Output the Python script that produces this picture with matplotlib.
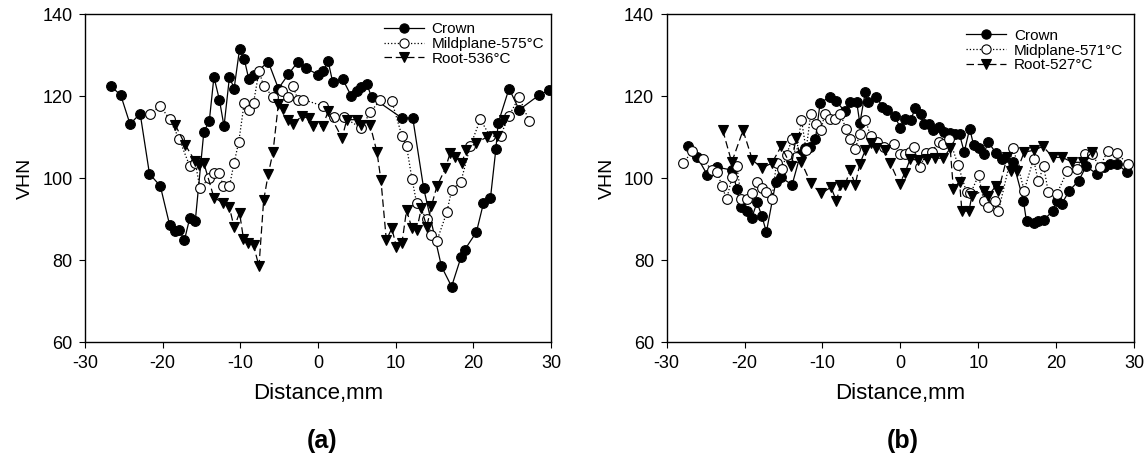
import matplotlib
matplotlib.use("Agg")
import matplotlib.pyplot as plt

plt.rcParams['font.family'] = ['Liberation Sans', 'DejaVu Sans']
plt.rcParams['axes.unicode_minus'] = False

# ---------------- Panel (a) data ----------------
a_crown_x = [-26.7, -25.4, -24.2, -22.9, -21.7, -20.3, -19.1, -18.4, -17.9, -17.2, -16.5, -15.8,
             -14.7, -14.0, -13.4, -12.7, -12.1, -11.4, -10.8, -10.1, -9.5, -8.9, -8.3, -6.4,
             -5.1, -3.8, -2.6, -1.5, 0.0, 0.7, 1.3, 1.9, 3.2, 4.3, 5.0, 5.6, 6.3, 6.9,
             10.8, 12.2, 13.6, 15.9, 17.2, 18.4, 18.9, 20.4, 21.3, 22.2, 22.9, 23.2, 24.6,
             25.9, 28.4, 29.7]
a_crown_y = [122.5, 120.3, 113.2, 115.8, 101.1, 98.1, 88.6, 87.2, 87.5, 84.9, 90.4, 89.6,
             111.3, 113.9, 124.7, 119.2, 112.7, 124.7, 121.9, 131.5, 129.1, 124.1, 125.3, 128.4,
             121.9, 125.4, 128.4, 126.8, 125.3, 126.1, 128.6, 123.4, 124.1, 120.0, 121.2, 122.3, 122.9, 119.8,
             114.7, 114.7, 97.6, 78.5, 73.6, 80.7, 82.6, 86.9, 93.9, 95.1, 107.1, 113.5, 121.9,
             116.7, 120.2, 121.5]

a_mid_x = [-21.6, -20.3, -19.1, -17.9, -16.5, -15.8, -15.2, -14.0, -13.4, -12.7, -12.2, -11.4,
           -10.8, -10.2, -9.5, -8.9, -8.3, -7.6, -7.0, -5.8, -4.6, -3.8, -3.2, -2.6, -1.9,
           0.7, 2.0, 3.3, 5.6, 6.7, 8.0, 9.5, 10.8, 11.4, 12.1, 12.7, 14.0, 14.6, 15.3,
           16.6, 17.2, 18.4, 19.6, 20.9, 22.1, 23.5, 24.6, 25.9, 27.2]
a_mid_y = [115.8, 117.6, 114.4, 109.7, 102.9, 103.8, 97.6, 100.0, 101.2, 101.2, 98.1, 98.1,
           103.8, 108.9, 118.4, 116.6, 118.4, 126.1, 122.6, 119.8, 121.2, 119.8, 122.4, 119.2, 119.2,
           117.6, 114.9, 114.9, 112.2, 116.1, 119.0, 118.8, 110.4, 107.9, 99.8, 94.0, 90.0, 86.1, 84.7,
           91.8, 97.1, 99.2, 107.8, 114.4, 110.4, 110.4, 115.3, 119.8, 113.9]

a_root_x = [-18.4, -17.1, -15.8, -15.3, -14.7, -13.4, -12.2, -11.4, -10.8, -10.1, -9.6, -9.0,
            -8.3, -7.6, -7.0, -6.4, -5.8, -5.1, -4.5, -3.8, -3.2, -2.1, -1.2, -0.6, 0.6,
            1.3, 3.1, 3.7, 5.0, 5.6, 6.7, 7.6, 8.1, 8.8, 9.5, 10.1, 10.8, 11.4, 12.1,
            12.7, 13.3, 14.0, 14.6, 15.3, 16.4, 17.0, 17.6, 18.5, 19.1, 20.4, 21.7, 23.0, 23.9]
a_root_y = [113.1, 108.2, 104.1, 103.3, 103.7, 95.3, 94.0, 92.9, 88.0, 91.6, 85.3, 84.1,
            83.7, 78.5, 94.6, 101.1, 106.3, 118.2, 116.9, 114.3, 113.3, 115.1, 114.7, 112.7, 112.7,
            116.3, 109.8, 114.3, 114.3, 113.1, 113.1, 106.3, 99.6, 84.9, 87.8, 83.3, 84.1, 92.2, 87.8,
            87.3, 92.7, 88.2, 93.2, 98.0, 102.4, 106.1, 105.3, 103.8, 106.9, 108.7, 110.0, 110.4, 114.3]

# ---------------- Panel (b) data ----------------
b_crown_x = [-27.3, -26.1, -24.8, -23.5, -21.6, -21.0, -20.5, -19.7, -19.1, -18.4, -17.8, -17.2,
             -16.0, -15.3, -13.9, -12.8, -12.2, -11.6, -10.9, -10.3, -9.0, -8.3, -7.1, -6.5,
             -5.6, -5.2, -4.5, -4.2, -3.1, -2.3, -1.7, -0.7, 0.0, 0.6, 1.35, 1.9, 2.6, 3.0,
             3.7, 4.25, 4.9, 5.6, 6.4, 7.0, 7.6, 8.2, 8.9, 9.4, 10.05, 10.7, 11.3, 12.3, 13.0,
             14.5, 15.8, 16.2, 17.1, 17.7, 18.4, 19.6, 20.1, 20.7, 21.7, 22.9, 23.85, 25.2,
             26.1, 26.9, 27.8, 29.1]
b_crown_y = [107.8, 105.2, 100.9, 102.7, 102.0, 97.4, 93.1, 92.1, 90.3, 94.1, 90.9, 86.9,
             99.0, 100.2, 98.4, 106.0, 107.5, 107.6, 109.6, 118.4, 119.9, 118.9, 116.3, 118.5,
             118.5, 113.4, 121.1, 118.5, 119.9, 117.5, 116.7, 115.2, 112.2, 114.4, 114.3, 117.1, 115.8, 113.3,
             113.3, 111.7, 112.5, 111.3, 111.0, 110.7, 110.7, 106.4, 112.1, 108.2, 107.4, 106.0, 108.8, 106.1, 104.7,
             103.9, 94.5, 89.5, 89.0, 89.5, 89.8, 92.1, 94.5, 93.7, 97.0, 99.4, 102.9, 101.1,
             102.7, 103.5, 103.5, 101.5]

b_mid_x = [-27.9, -26.7, -25.4, -24.2, -23.5, -22.9, -22.3, -21.6, -21.0, -20.4, -19.7, -19.1,
           -18.4, -17.8, -17.2, -16.5, -15.9, -15.2, -14.6, -13.9, -13.4, -12.7, -12.1, -11.5,
           -10.8, -10.2, -9.7, -9.0, -8.4, -7.7, -7.0, -6.45, -5.8, -5.2, -4.5, -3.8, -3.0,
           -2.1, -0.8, 0.0, 0.6, 1.2, 1.7, 2.5, 3.3, 4.0, 4.9, 5.5, 6.3, 7.4, 8.5, 9.0,
           10.05, 10.7, 11.3, 12.2, 12.6, 14.5, 15.9, 17.1, 17.7, 18.4, 19.0, 20.1, 21.4,
           22.65, 23.7, 24.6, 25.6, 26.6, 27.8, 29.2]
b_mid_y = [103.7, 106.6, 104.7, 102.0, 101.5, 98.0, 94.9, 100.4, 103.1, 94.9, 94.9, 96.3,
           99.0, 97.6, 96.6, 94.9, 103.7, 102.3, 105.8, 109.6, 105.3, 114.3, 106.9, 115.8,
           113.3, 111.8, 115.6, 114.5, 114.5, 115.8, 112.1, 109.6, 107.2, 110.7, 114.3, 110.2, 108.8,
           107.6, 108.4, 106.0, 106.0, 106.4, 107.6, 102.7, 106.1, 106.4, 108.8, 108.4, 109.6, 103.3, 96.6, 96.3,
           100.7, 94.5, 92.9, 94.4, 92.1, 107.4, 97.0, 104.7, 99.3, 102.9, 96.6, 96.2, 101.7,
           102.3, 106.0, 106.0, 102.7, 106.6, 106.1, 103.5]

b_root_x = [-22.8, -21.65, -20.2, -19.0, -17.8, -16.5, -15.3, -14.0, -13.4, -12.7, -11.5, -10.2,
            -8.9, -8.2, -7.7, -7.1, -6.45, -5.8, -5.2, -4.5, -3.8, -3.1, -2.0, -1.3, -0.1,
            0.6, 1.25, 2.3, 3.4, 4.5, 5.5, 6.4, 6.8, 7.6, 7.9, 8.8, 9.2, 10.7, 11.3, 12.3,
            12.6, 13.7, 14.2, 15.0, 15.9, 17.1, 18.3, 19.6, 20.8, 22.1, 23.4, 24.6]
b_root_y = [111.7, 103.9, 111.7, 104.5, 102.5, 103.7, 107.8, 102.9, 109.9, 103.9, 98.8, 96.3,
            97.8, 94.4, 98.4, 98.4, 102.0, 98.4, 103.5, 106.9, 108.6, 107.4, 106.8, 103.7, 98.6,
            101.4, 104.6, 104.5, 104.6, 104.9, 104.9, 107.3, 97.5, 99.2, 92.0, 92.0, 95.8, 97.0, 95.8, 98.2,
            97.0, 105.1, 101.9, 101.9, 106.4, 106.8, 107.8, 105.1, 105.1, 103.9, 103.9, 106.4]

labels_a = ["Crown", "Mildplane-575\u00b0C", "Root-536\u00b0C"]
labels_b = ["Crown", "Midplane-571\u00b0C", "Root-527\u00b0C"]

x_ticks = [-30, -20, -10, 0, 10, 20, 30]
y_ticks = [60, 80, 100, 120, 140]

W, H = 1145, 454
fig = plt.figure(figsize=(W / 100, H / 100), dpi=100)

def px_axes(left, right, top, bottom):
    return fig.add_axes([left / W, 1 - bottom / H, (right - left) / W, (bottom - top) / H])

axa = px_axes(85, 551, 14.3, 342.3)
axb = px_axes(666.7, 1134, 14.3, 342.3)

ms = 7
lw = 0.9

def draw(ax, cx, cy, mx, my, rx, ry, labels):
    ax.plot(cx, cy, '-', color='black', lw=lw, marker='o', ms=ms, mfc='black', mec='black',
            mew=0.8, label=labels[0])
    ax.plot(mx, my, ':', color='black', lw=lw, marker='o', ms=ms, mfc='white', mec='black',
            mew=0.8, label=labels[1])
    ax.plot(rx, ry, color='black', lw=lw, ls=(0, (6, 3)), marker='v', ms=ms, mfc='black',
            mec='black', mew=0.8, label=labels[2])
    ax.set_xlim(-30, 30)
    ax.set_ylim(60, 140)
    ax.set_xticks(x_ticks)
    ax.set_yticks(y_ticks)
    ax.tick_params(direction='out', length=4, width=0.8, labelsize=13, pad=5)
    for s in ax.spines.values():
        s.set_linewidth(1.0)
    ax.set_xlabel("Distance,mm", fontsize=16, labelpad=8)
    ax.set_ylabel("VHN", fontsize=14, labelpad=6)

draw(axa, a_crown_x, a_crown_y, a_mid_x, a_mid_y, a_root_x, a_root_y, labels_a)
draw(axb, b_crown_x, b_crown_y, b_mid_x, b_mid_y, b_root_x, b_root_y, labels_b)

axa.legend(loc='upper left', bbox_to_anchor=(0.635, 0.985), frameon=False, fontsize=11,
           labelspacing=0.05, handlelength=2.6, handletextpad=0.5, borderpad=0.2,
           borderaxespad=0.0, markerscale=0.95)
axb.legend(loc='upper left', bbox_to_anchor=(0.635, 0.965), frameon=False, fontsize=11,
           labelspacing=0.05, handlelength=2.6, handletextpad=0.5, borderpad=0.2,
           borderaxespad=0.0, markerscale=0.95)

fig.text(322 / W, 1 - 441 / H, "(a)", fontsize=18, fontweight='bold', ha='center', va='center')
fig.text(903 / W, 1 - 441 / H, "(b)", fontsize=18, fontweight='bold', ha='center', va='center')

fig.savefig("out.png", dpi=100)
